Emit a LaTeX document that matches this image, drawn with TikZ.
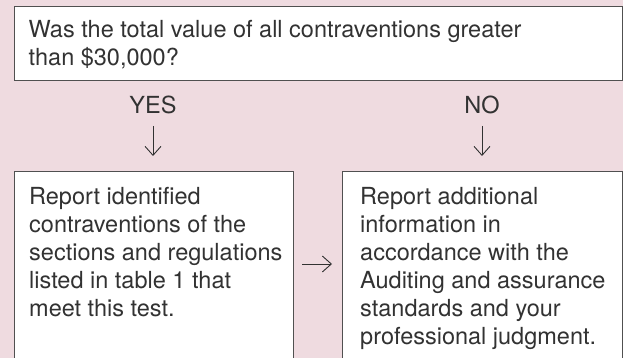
\documentclass[tikz,border=0pt]{standalone}
\usepackage{fontspec}
\setmainfont{TeX Gyre Heros}
\usetikzlibrary{arrows.meta}
\definecolor{bgpink}{RGB}{239,219,224}
\definecolor{edgegray}{RGB}{80,80,80}
\definecolor{inkgray}{RGB}{50,50,50}
\tikzset{
  boxnode/.style={draw=edgegray, line width=1.3pt, fill=white, rectangle, inner sep=0pt, anchor=north west},
  txtnode/.style={inner sep=0pt, anchor=north west, align=left, text=inkgray, font=\fontsize{23.5}{28}\selectfont},
  lblnode/.style={inner sep=0pt, anchor=base, text=inkgray, font=\fontsize{23.5}{28}\selectfont},
  flowarrow/.style={draw=inkgray, line width=0.9pt, -{Straight Barb[length=9pt,width=16pt]}}
}
\begin{document}
\begin{tikzpicture}[x=1pt,y=-1pt]
\path[fill=bgpink,use as bounding box] (0,0) rectangle (623,358);
\clip (0,0) rectangle (623,358);
% boxes
\node[boxnode, minimum width=608pt, minimum height=74pt] (qbox) at (13.5,6) {};
\node[boxnode, minimum width=279.5pt, minimum height=220pt] (ybox) at (13.5,171) {};
\node[boxnode, minimum width=279.5pt, minimum height=220pt] (nbox) at (342,171) {};
% texts
\node[txtnode] (qtxt) at (28.5,17.9) {\strut Was the total value of all contraventions greater\\than \$30,000?};
\node[txtnode] (ytxt) at (29,184.4) {\strut Report identified\\contraventions of the\\sections and regulations\\listed in table 1 that\\meet this test.};
\node[txtnode] (ntxt) at (360,184.4) {\strut Report additional\\information in\\accordance with the\\Auditing and assurance\\standards and your\\professional judgment.};
% labels
\node[lblnode] (yes) at (153,114) {YES};
\node[lblnode] (no) at (482,114) {NO};
% arrow endpoints
\coordinate (ya) at (153,126);
\coordinate (yb) at (153,156);
\coordinate (na) at (482,126);
\coordinate (nb) at (482,156);
\coordinate (ra) at (302,264);
\coordinate (rb) at (332,264);
\draw[flowarrow] (ya) -- (yb);
\draw[flowarrow] (na) -- (nb);
\draw[flowarrow] (ra) -- (rb);
\end{tikzpicture}
\end{document}
